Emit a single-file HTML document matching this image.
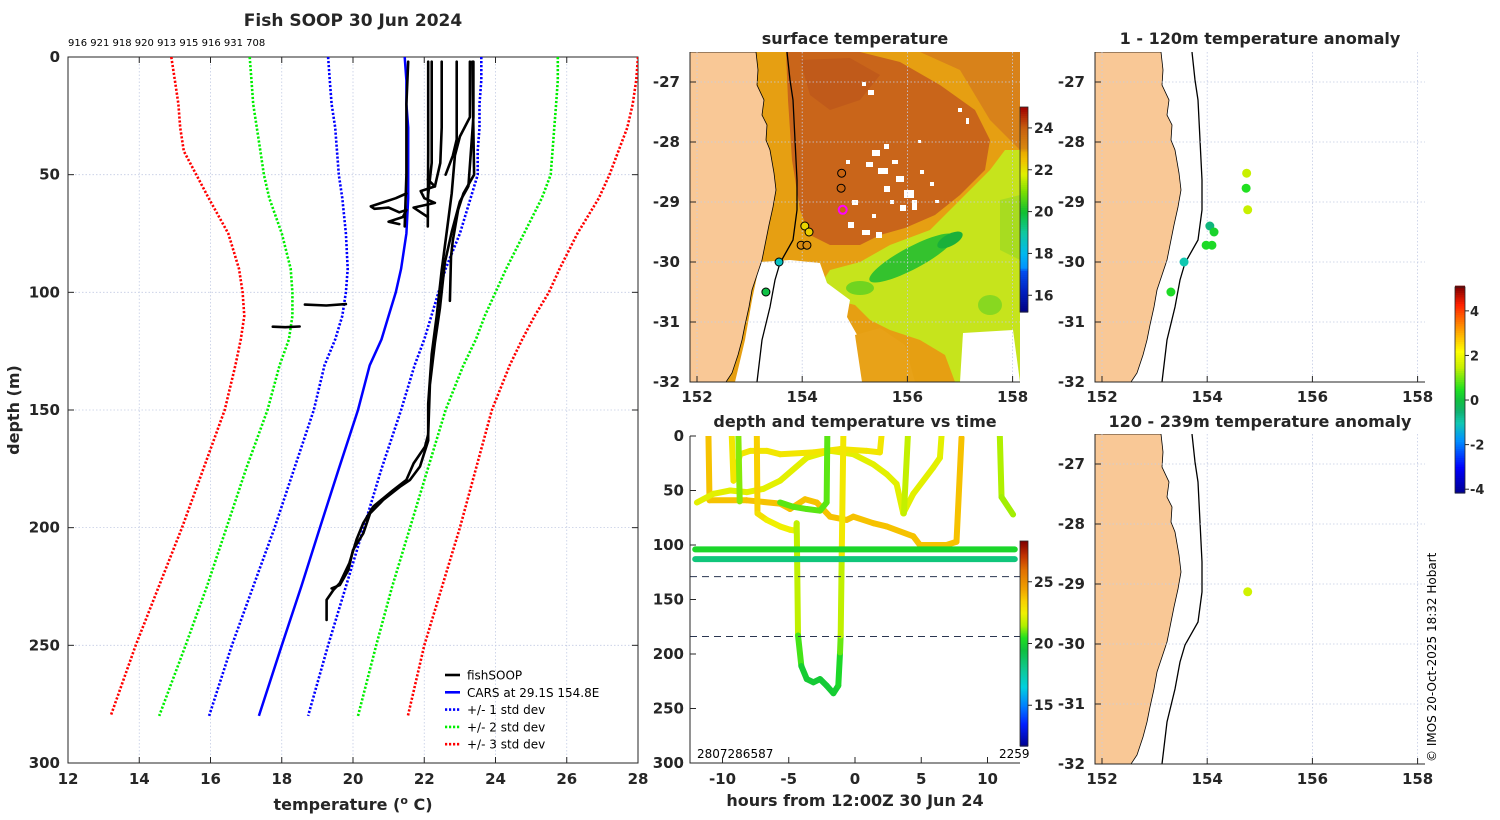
<!DOCTYPE html>
<html><head><meta charset="utf-8"><style>
html,body{margin:0;padding:0;background:#fff;}
svg{display:block;font-family:"DejaVu Sans","Liberation Sans",sans-serif;}
.b{font-weight:bold;fill:#262626;}
</style></head><body>
<svg id="fig" width="1500" height="820" viewBox="0 0 1500 820" xmlns="http://www.w3.org/2000/svg">
<defs>
<clipPath id="cpL"><rect x="68" y="57" width="570" height="706"/></clipPath>
<clipPath id="cpS"><rect x="690" y="52" width="330" height="330"/></clipPath>
<clipPath id="cpR1"><rect x="1095" y="52" width="330" height="330"/></clipPath>
<clipPath id="cpR2"><rect x="1095" y="434" width="330" height="330"/></clipPath>
<clipPath id="cpT"><rect x="690" y="436" width="330" height="327"/></clipPath>
</defs>
<text class="b" x="353" y="26" font-size="17" text-anchor="middle">Fish SOOP 30 Jun 2024</text>
<text x="68" y="46" font-size="10" fill="#000">916 921 918 920 913 915 916 931 708</text>
<text class="b" x="353" y="810" font-size="16" text-anchor="middle">temperature (<tspan font-size="11" dy="-6">o</tspan><tspan dy="6"> C)</tspan></text>
<text class="b" x="19" y="410" font-size="16" text-anchor="middle" transform="rotate(-90 19 410)">depth (m)</text>
<text class="b" x="855" y="44" font-size="16" text-anchor="middle">surface temperature</text>
<text class="b" x="1260" y="44" font-size="16" text-anchor="middle">1 - 120m temperature anomaly</text>
<text class="b" x="855" y="427" font-size="16" text-anchor="middle">depth and temperature vs time</text>
<text class="b" x="1260" y="427" font-size="16" text-anchor="middle">120 - 239m temperature anomaly</text>
<text class="b" x="855" y="806" font-size="16" text-anchor="middle">hours from 12:00Z 30 Jun 24</text>
<text x="1436" y="762" font-size="12" fill="#000" transform="rotate(-90 1436 762)">© IMOS 20-Oct-2025 18:32 Hobart</text>
<text x="697" y="758" font-size="12" fill="#000">2807286587</text>
<text x="999" y="758" font-size="12" fill="#000">2259</text>
<g id="gL"></g><g id="gS"></g><g id="gR"></g><g id="gT"></g>
</svg>
<script>
// ---------- profile chart data ----------
const stdDepths = [0,10,20,30,40,50,60,75,90,100,110,120,131,150,175,200,225,250,280];
const carsMean = [21.45,21.5,21.5,21.55,21.55,21.55,21.55,21.5,21.35,21.2,21.0,20.8,20.47,20.14,19.6,19.07,18.55,18.0,17.36];
const minus1 = [19.3,19.35,19.4,19.5,19.55,19.6,19.7,19.8,19.85,19.8,19.7,19.5,19.2,18.9,18.35,17.8,17.2,16.6,15.96];
const plus1 = [23.6,23.6,23.55,23.55,23.5,23.5,23.3,23.0,22.6,22.4,22.2,22.0,21.73,21.35,20.8,20.3,19.8,19.3,18.74];
const minus2 = [17.1,17.15,17.2,17.3,17.4,17.5,17.65,18.0,18.25,18.3,18.3,18.2,17.94,17.6,17.0,16.45,15.9,15.3,14.56];
const plus2 = [25.75,25.75,25.7,25.65,25.6,25.55,25.3,24.8,24.3,24.0,23.7,23.45,23.1,22.6,22.1,21.6,21.1,20.65,20.14];
const minus3 = [14.9,15.0,15.1,15.15,15.25,15.6,15.95,16.5,16.8,16.9,16.95,16.85,16.7,16.4,15.8,15.2,14.55,13.9,13.2];
const plus3 = [28.0,27.95,27.85,27.7,27.45,27.2,26.9,26.3,25.8,25.5,25.1,24.75,24.4,23.9,23.45,23.0,22.5,22.0,21.54];
const profA_T = [23.38,23.38,23.24,23.0,22.77,22.58,22.44,22.3,22.16,22.11,22.02,21.7,21.5,21.13,20.57,20.29,20.1,19.9,19.63,19.45,19.26,19.26];
const profA_D = [2,25.6,54.9,61.4,74.4,87.3,106.8,121.4,139.3,160.4,165.6,172.7,179.7,184,191,198,205,215,223.6,226.5,230.7,239.2];
const profB_T = [23.28,23.28,23.0,22.86,22.77,22.63,22.49,22.35,22.21,22.11,22.11,21.88,21.6,21.32,20.85,20.48,20.29,20.0,19.87,19.63,19.4];
const profB_D = [2,25.6,33.8,41.9,58,74.4,90.6,110,126.3,147.4,163,174,179.7,182.6,188.2,193.9,202.4,209.5,218,224.4,225.8];
const profC_T = [23.35,23.4,23.1,22.95,22.8,22.75,22.72];
const profC_D = [2,50,58,65,78,85,103.6];
const profD_T = [21.55,21.5,21.5,21.45];
const profD_D = [2,20,50,72];
const profE_T = [22.11,22.11,22.1];
const profE_D = [2,40,72];
const profF_T = [22.21,22.21,22.1];
const profF_D = [2,45,60];
const profG_T = [22.49,22.49,22.45,22.3];
const profG_D = [2,30,45,55];
const profH_T = [22.91,22.91,22.8,22.6];
const profH_D = [2,35,42,50];
const scrib1_T = [21.5,21.2,20.8,20.5,20.6,21.0,21.3,21.5,21.4,21.0,21.3];
const scrib1_D = [58,60,62,63.5,64.5,64,66,65,68,70,71];
const scrib2_T = [22.1,22.3,21.9,22.0,22.3,21.7,21.9,22.1];
const scrib2_D = [52,55,57,60,62,64,66,68];
const seg1_T = [18.65,19.25,19.8];
const seg1_D = [105.2,105.6,105.0];
const seg2_T = [17.75,18.1,18.5];
const seg2_D = [114.6,114.8,114.5];
const tempTicks = [12,14,16,18,20,22,24,26,28];
const depthTicks = [0,50,100,150,200,250,300];

// ---------- map data ----------
const stnLon = [154.75,154.74,154.77,154.05,154.13,153.98,154.09,153.56,153.31];
const stnLat = [-28.52,-28.77,-29.13,-29.40,-29.50,-29.72,-29.72,-30.0,-30.5];
const stnSST = [23.9,23.9,23.9,22.2,22.3,23.0,23.0,18.6,19.8];
const anom1 = [1.5,0.5,1.5,-0.6,0.3,0.4,0.4,-1.0,0.4];
const deepLon = [154.77];
const deepLat = [-29.13];
const anom2 = [1.6];
const lonTicks = [152,154,156,158];
const latTicks = [-27,-28,-29,-30,-31,-32];

// ---------- time plot data ----------
const trHours = [
 [-11.06,-10.98,-8.17,-5.65,-4.9,-3.77,-2.89,-1.88,-0.63,-0.13,1.38,2.39,4.4,4.9,6.91,7.66,8.04],
 [-11.93,-10.68,-9.42,-8.17,-6.91,-5.65,-3.64,-1.88,-0.13,1.38,2.39,3.14,3.64,4.4,5.9,6.41,6.53],
 [-9.3,-9.17,-8.67,-7.9,-6.66,-5.65,-3.14,-1.13,0.88,1.88,2.0],
 [-8.8,-8.7],
 [-5.65,-4.65,-3.64,-2.64,-2.14,-2.09],
 [-7.41,-7.36,-6.66,-5.65,-4.9,-4.45,-4.4,-4.3,-4.05,-3.64,-3.14,-2.64,-2.14,-1.63,-1.26,-1.13,-1.08,-1.0,-0.88],
 [3.99,3.69],
 [10.93,11.06,11.93],
 [-12.06,12.06],
 [-12.06,12.06]
];
const trDepth = [
 [0,59,59,62,67,58,61,74,77,74,80,83,92,100,100,97,1.5],
 [61,53,50,51.5,48.5,41,20,13.6,16.7,26,35,44,71,53,29,20,0],
 [0,41,16.7,13.6,13.6,16.7,15,12,13.6,15,0],
 [0,60],
 [61,65,67,68.5,61,0],
 [0,71,77,83,86,87,80,183,211,223,226,223,229,236,229,198.5,183,108,0],
 [0,71],
 [0,56,72],
 [104,104],
 [113,113]
];
const trTemp = [
 [23.8,23.8,23.8,23.8,23.8,23.8,23.8,23.8,23.8,23.8,23.8,23.8,23.8,23.8,23.8,23.8,23.8],
 [22.3,22.3,22.3,22.3,22.3,22.3,22.3,22.3,22.3,22.3,22.3,22.3,22.3,22.3,22.3,22.3,22.3],
 [22.8,22.8,22.8,22.8,22.8,22.8,22.8,22.8,22.8,22.8,22.8],
 [21.2,21.2],
 [20.9,20.9,20.9,20.9,20.9,20.9],
 [23.5,23.5,22.5,22.5,22.5,22.5,22,21.5,20.0,19.8,19.8,19.8,19.8,19.8,20,20.5,21.5,22,23.5],
 [21.8,21.8],
 [21.5,21.5,21.3],
 [20.2,20.2],
 [18.4,18.4]
];
const dashDepths = [129,184];
const hourTicks = [-10,-5,0,5,10];
const timeDepthTicks = [0,50,100,150,200,250,300];

const NS='http://www.w3.org/2000/svg';
function mk(tag, attrs, parent){const e=document.createElementNS(NS,tag);for(const k in attrs)e.setAttribute(k,attrs[k]);parent.appendChild(e);return e;}
function lerpHex(a,b,t){const pa=[1,3,5].map(i=>parseInt(a.substr(i,2),16)),pb=[1,3,5].map(i=>parseInt(b.substr(i,2),16));return 'rgb('+pa.map((v,i)=>Math.round(v+(pb[i]-v)*t)).join(',')+')';}
function cmapFrom(stops){return function(v){if(v<=stops[0][0])return stops[0][1];for(let i=1;i<stops.length;i++){if(v<=stops[i][0]){const t=(v-stops[i-1][0])/(stops[i][0]-stops[i-1][0]);return lerpHex(stops[i-1][1],stops[i][1],t);}}return stops[stops.length-1][1];};}
const timeStops=[[11.7,'#00008f'],[13.5,'#0020ff'],[15,'#0080ff'],[16.5,'#00d0e0'],[18,'#10c890'],[19.5,'#10c040'],[20.5,'#20e020'],[21.5,'#b0f000'],[22.5,'#f0f000'],[23.5,'#f8d000'],[24.5,'#f0a000'],[26,'#e07000'],[27.2,'#c03000'],[28.3,'#800000']];
const sstStops=[[15.2,'#000080'],[16.2,'#0020c0'],[17.2,'#0050f0'],[17.3,'#0090ff'],[18,'#00b8f0'],[19,'#10c8a0'],[20,'#10c030'],[21,'#80e000'],[21.8,'#e0f000'],[22.5,'#f0c000'],[22.9,'#e8a800'],[23.0,'#d88a10'],[24,'#c86010'],[25,'#a00000']];
const jetStops=[[-4.17,'#00008f'],[-3.0,'#0000ff'],[-1.8,'#0090ff'],[-1.0,'#10c8b0'],[-0.5,'#10b070'],[0,'#10c040'],[0.5,'#20e020'],[1.5,'#c8f000'],[2.2,'#ffff00'],[3.3,'#ff9000'],[4.3,'#ff2000'],[5.07,'#800000']];
const timeC=cmapFrom(timeStops), sstC=cmapFrom(sstStops), jetC=cmapFrom(jetStops);

// ================= LEFT PROFILE CHART =================
const gL=document.getElementById('gL');
const xT=t=>68+(t-12)*35.625, yD=d=>57+d*2.3533;
for(const t of tempTicks){
  const gl=mk('line',{x1:xT(t),x2:xT(t),y1:57,y2:763,stroke:'#c4cce4','stroke-width':0.8,'stroke-dasharray':'1.5,2'},gL);
  
  
  mk('line',{x1:xT(t),x2:xT(t),y1:57,y2:63,stroke:'#262626','stroke-width':1},gL);
  mk('line',{x1:xT(t),x2:xT(t),y1:763,y2:757,stroke:'#262626','stroke-width':1},gL);
  const tl=mk('text',{x:xT(t),y:784,'font-size':15,'text-anchor':'middle',class:'b'},gL);
  tl.textContent=t;
  
  
}
for(const d of depthTicks){
  const gl=mk('line',{x1:68,x2:638,y1:yD(d),y2:yD(d),stroke:'#c4cce4','stroke-width':0.8,'stroke-dasharray':'1.5,2'},gL);
  
  
  mk('line',{x1:68,x2:74,y1:yD(d),y2:yD(d),stroke:'#262626','stroke-width':1},gL);
  mk('line',{x1:638,x2:632,y1:yD(d),y2:yD(d),stroke:'#262626','stroke-width':1},gL);
  const tl=mk('text',{x:60,y:yD(d)+5,'font-size':15,'text-anchor':'end',class:'b'},gL);
  tl.textContent=d;
  
  
}
const frame=mk('rect',{x:68,y:57,width:570,height:706,fill:'none',stroke:'#262626','stroke-width':1},gL);


const gLc=mk('g',{'clip-path':'url(#cpL)'},gL);
function pathTD(T,D){return T.map((t,i)=>(i?'L':'M')+xT(t).toFixed(1)+','+yD(D[i]).toFixed(1)).join('');}
const stdCurves=[[minus3,'#ff0000','minus-3-std'],[plus3,'#ff0000','plus-3-std'],[minus2,'#00ee00','minus-2-std'],[plus2,'#00ee00','plus-2-std'],[minus1,'#0000ff','minus-1-std'],[plus1,'#0000ff','plus-1-std']];
for(const c of stdCurves){
  const p=mk('path',{d:pathTD(c[0],stdDepths),fill:'none',stroke:c[1],'stroke-width':2.6,'stroke-dasharray':'2.2,1.8'},gLc);
  
  
}
const meanP=mk('path',{d:pathTD(carsMean,stdDepths),fill:'none',stroke:'#0000ff','stroke-width':2.5},gLc);


const profs=[[profA_T,profA_D],[profB_T,profB_D],[profC_T,profC_D],[profD_T,profD_D],[profE_T,profE_D],[profF_T,profF_D],[profG_T,profG_D],[profH_T,profH_D],[scrib1_T,scrib1_D],[scrib2_T,scrib2_D],[seg1_T,seg1_D],[seg2_T,seg2_D]];
for(const pr of profs){
  const p=mk('path',{d:pathTD(pr[0],pr[1]),fill:'none',stroke:'#000','stroke-width':2.6,'stroke-linejoin':'round','stroke-linecap':'round'},gLc);
  
  
}
const legItems=[['fishSOOP','#000',null],['CARS at 29.1S 154.8E','#0000ff',null],['+/- 1 std dev','#0000ff','2.2,1.8'],['+/- 2 std dev','#00ee00','2.2,1.8'],['+/- 3 std dev','#ff0000','2.2,1.8']];
legItems.forEach((it,i)=>{
  const y=675+i*17.3;
  const ln=mk('line',{x1:445,x2:460,y1:y,y2:y,stroke:it[1],'stroke-width':2.6},gL);
  if(it[2])ln.setAttribute('stroke-dasharray',it[2]);
  
  
  const tx=mk('text',{x:467,y:y+4.5,'font-size':12,fill:'#000'},gL);
  tx.textContent=it[0];
  
  
});

// ================= MAPS =================
const coastPx=[[756,52],[758,70],[757,85],[764,100],[762,115],[767,125],[766,140],[770,150],[774,173],[776,190],[773,207],[769,225],[766,240],[762,260],[757,275],[752,290],[749,307],[745,325],[742,340],[738,355],[732,373],[726,382]];
const shelfPx=[[787,52],[790,80],[793,100],[795,140],[797,180],[797,210],[793,240],[780,263],[775,280],[770,307],[762,340],[757,382]];
function landPath(dx,dy){return 'M'+(690+dx)+','+(52+dy)+coastPx.map(p=>'L'+(p[0]+dx)+','+(p[1]+dy)).join('')+'L'+(690+dx)+','+(382+dy)+'Z';}
function shelfPath(dx,dy){return shelfPx.map((p,i)=>(i?'L':'M')+(p[0]+dx)+','+(p[1]+dy)).join('');}
function mapAxes(g,x152,yTop,showXLabels,labelY,clip,name){
  const xL=x152-7, yM27=yTop+30;
  const lx=lon=>x152+(lon-152)*52.6, ly=lat=>yM27+(-27-lat)*60;
  return {lx,ly,xL,
  decorate(){
    for(const lon of lonTicks){
      const gl=mk('line',{x1:lx(lon),x2:lx(lon),y1:yTop,y2:yTop+330,stroke:'#c4cce4','stroke-width':0.8,'stroke-dasharray':'1.5,2'},g);
      
      
      mk('line',{x1:lx(lon),x2:lx(lon),y1:yTop+330,y2:yTop+324,stroke:'#262626'},g);
      const tl=mk('text',{x:lx(lon),y:labelY,'font-size':15,'text-anchor':'middle',class:'b'},g);
      tl.textContent=lon;
      
      
    }
    for(const lat of latTicks){
      const gl=mk('line',{x1:xL,x2:xL+330,y1:ly(lat),y2:ly(lat),stroke:'#c4cce4','stroke-width':0.8,'stroke-dasharray':'1.5,2'},g);
      
      
      mk('line',{x1:xL,x2:xL+6,y1:ly(lat),y2:ly(lat),stroke:'#262626'},g);
      const tl=mk('text',{x:xL-10,y:ly(lat)+5,'font-size':15,'text-anchor':'end',class:'b'},g);
      tl.textContent=lat;
      
      
    }
    mk('path',{d:'M'+xL+','+yTop+'V'+(yTop+330)+'H'+(xL+330),fill:'none',stroke:'#262626','stroke-width':1},g);
  }};
}
// --- SST map
const gS=document.getElementById('gS');
const sst=mapAxes(gS,697,52,true,402,'cpS','sst-map');
const gSc=mk('g',{'clip-path':'url(#cpS)'},gS);
const ocean=mk('rect',{x:690,y:52,width:330,height:330,fill:'#e69f12'},gSc);


mk('path',{d:'M1020,52L1020,150L990,120L960,70L920,52Z',fill:'#d8821a'},gSc);
mk('path',{d:'M786,52L860,52L900,62L940,85L975,110L990,140L985,170L960,195L935,215L905,228L880,235L860,245L830,245L810,235L800,210L792,160L788,100Z',fill:'#c9651a'},gSc);
mk('path',{d:'M800,60L850,58L880,75L860,100L830,110L810,95Z',fill:'#c05a1a'},gSc);
mk('path',{d:'M1020,150L1020,382L955,382L945,355L920,340L890,330L870,320L855,305L835,300L820,285L830,270L860,262L890,245L930,230L960,200L990,170L1005,150Z',fill:'#c6e41c'},gSc);
mk('path',{d:'M1000,200L1020,195L1020,260L1000,250Z',fill:'#a8dc20'},gSc);
mk('ellipse',{cx:912,cy:258,rx:48,ry:11,fill:'#34c22e',transform:'rotate(-28 912 258)'},gSc);
mk('ellipse',{cx:950,cy:240,rx:14,ry:6,fill:'#1ab03a',transform:'rotate(-28 950 240)'},gSc);
mk('ellipse',{cx:860,cy:288,rx:14,ry:7,fill:'#70d420'},gSc);
mk('ellipse',{cx:990,cy:305,rx:12,ry:10,fill:'#88d820'},gSc);
mk('path',{d:'M760,262L790,260L820,263L827,283L850,300L847,317L860,340L870,382L735,382L745,340L752,300Z',fill:'#ffffff'},gSc);
mk('path',{d:'M855,335L880,328L905,345L915,382L862,382Z',fill:'#e8a218'},gSc);
mk('path',{d:'M963,333L1013,330L1020,382L960,382Z',fill:'#ffffff'},gSc);
const holes=[[862,82,4,4],[868,90,6,5],[872,150,8,6],[884,144,5,5],[866,162,7,5],[878,168,10,6],[892,160,6,4],[896,176,8,6],[884,186,6,6],[904,190,10,8],[900,205,6,6],[912,200,5,10],[890,200,4,4],[920,170,4,4],[930,182,4,4],[852,200,6,5],[848,222,6,6],[862,230,8,5],[876,232,6,6],[872,214,4,4],[958,108,4,4],[966,118,3,6],[846,160,4,4],[918,140,3,3],[935,200,4,3]];
for(const h of holes)mk('rect',{x:h[0],y:h[1],width:h[2],height:h[3],fill:'#ffffff'},gSc);
const landS=mk('path',{d:landPath(0,0),fill:'#f9c896',stroke:'#000','stroke-width':0.8},gSc);


const shelfS=mk('path',{d:shelfPath(0,0),fill:'none',stroke:'#000','stroke-width':1.3},gSc);


sst.decorate();
stnLon.forEach((lon,i)=>{
  const isCur=i===2;
  const c=mk('circle',{cx:sst.lx(lon),cy:sst.ly(stnLat[i]),r:4,fill:sstC(stnSST[i]),stroke:isCur?'#ff00ff':'#000','stroke-width':isCur?2:1},gS);
  
  
});
const sstCbTop=107,sstCbBot=312,sstMin=15.2,sstMax=25;
const ysC=v=>sstCbBot-(v-sstMin)/(sstMax-sstMin)*(sstCbBot-sstCbTop);
for(let v=sstMin;v<sstMax;v+=0.1){mk('rect',{x:1020,y:ysC(v+0.1),width:8,height:(sstCbBot-sstCbTop)/98+0.6,fill:sstC(v+0.05)},gS);}
const sstCb=mk('rect',{x:1020,y:sstCbTop,width:8,height:sstCbBot-sstCbTop,fill:'none',stroke:'#262626','stroke-width':0.8},gS);


for(const v of [16,18,20,22,24]){
  mk('line',{x1:1028,x2:1032,y1:ysC(v),y2:ysC(v),stroke:'#262626'},gS);
  const tl=mk('text',{x:1034,y:ysC(v)+5,'font-size':14,class:'b'},gS);
  tl.textContent=v;
  
  
}
// --- anomaly maps
const gR=document.getElementById('gR');
const r1=mapAxes(gR,1102,52,true,402,'cpR1','anomaly-map-1');
const r2=mapAxes(gR,1102,434,true,784,'cpR2','anomaly-map-2');
const gR1=mk('g',{'clip-path':'url(#cpR1)'},gR), gR2=mk('g',{'clip-path':'url(#cpR2)'},gR);
r1.decorate(); r2.decorate();
[[gR1,0],[gR2,382]].forEach(a=>{
  const l=mk('path',{d:landPath(405,a[1]),fill:'#f9c896',stroke:'#000','stroke-width':0.8},a[0]);
  
  
  const s=mk('path',{d:shelfPath(405,a[1]),fill:'none',stroke:'#000','stroke-width':1.3},a[0]);
  
  
});
stnLon.forEach((lon,i)=>{
  const c=mk('circle',{cx:r1.lx(lon),cy:r1.ly(stnLat[i]),r:4.5,fill:jetC(anom1[i])},gR);
  
  
});
deepLon.forEach((lon,i)=>{
  const c=mk('circle',{cx:r2.lx(lon),cy:r2.ly(deepLat[i]),r:4.5,fill:jetC(anom2[i])},gR);
  
  
});
const aTop=287,aBot=493,aMin=-4.17,aMax=5.07;
const yaC=v=>aBot-(v-aMin)/(aMax-aMin)*(aBot-aTop);
for(let v=aMin;v<aMax;v+=0.1){mk('rect',{x:1455,y:yaC(v+0.1),width:10,height:2.8,fill:jetC(v+0.05)},gR);}
const aCb=mk('rect',{x:1455,y:aTop,width:10,height:aBot-aTop,fill:'none',stroke:'#262626','stroke-width':0.8},gR);


for(const v of [-4,-2,0,2,4]){
  mk('line',{x1:1465,x2:1469,y1:yaC(v),y2:yaC(v),stroke:'#262626'},gR);
  const tl=mk('text',{x:1470,y:yaC(v)+5,'font-size':13,class:'b'},gR);
  tl.textContent=v;
  
  
}

// ================= TIME PLOT =================
const gT=document.getElementById('gT');
const xH=h=>855+h*13.25, yTD=d=>436+d*1.09;
const gTc=mk('g',{'clip-path':'url(#cpT)'},gT);
trHours.forEach((hs,k)=>{
  for(let i=1;i<hs.length;i++){
    const s=mk('line',{x1:xH(hs[i-1]),y1:yTD(trDepth[k][i-1]),x2:xH(hs[i]),y2:yTD(trDepth[k][i]),stroke:timeC((trTemp[k][i-1]+trTemp[k][i])/2),'stroke-width':6,'stroke-linecap':'round'},gTc);
    
    
  }
});
for(const d of dashDepths){
  const l=mk('line',{x1:690,x2:1020,y1:yTD(d),y2:yTD(d),stroke:'#2a3550','stroke-width':1,'stroke-dasharray':'7,5'},gT);
  
  
}
for(const h of hourTicks){
  mk('line',{x1:xH(h),x2:xH(h),y1:763,y2:757,stroke:'#262626'},gT);
  const tl=mk('text',{x:xH(h),y:784,'font-size':15,'text-anchor':'middle',class:'b'},gT);
  tl.textContent=h;
  
  
}
for(const d of timeDepthTicks){
  mk('line',{x1:690,x2:696,y1:yTD(d),y2:yTD(d),stroke:'#262626'},gT);
  const tl=mk('text',{x:684,y:yTD(d)+5,'font-size':15,'text-anchor':'end',class:'b'},gT);
  tl.textContent=d;
  
  
}
mk('path',{d:'M690,436V763H1020',fill:'none',stroke:'#262626','stroke-width':1},gT);
const tTop=541,tBot=746,tMin=11.7,tMax=28.3;
const ytC=v=>tBot-(v-tMin)/(tMax-tMin)*(tBot-tTop);
for(let v=tMin;v<tMax;v+=0.1){mk('rect',{x:1020,y:ytC(v+0.1),width:8,height:1.9,fill:timeC(v+0.05)},gT);}
const tCb=mk('rect',{x:1020,y:tTop,width:8,height:tBot-tTop,fill:'none',stroke:'#262626','stroke-width':0.8},gT);


for(const v of [15,20,25]){
  mk('line',{x1:1028,x2:1032,y1:ytC(v),y2:ytC(v),stroke:'#262626'},gT);
  const tl=mk('text',{x:1034,y:ytC(v)+5,'font-size':14,class:'b'},gT);
  tl.textContent=v;
  
  
}
</script>
</body></html>
